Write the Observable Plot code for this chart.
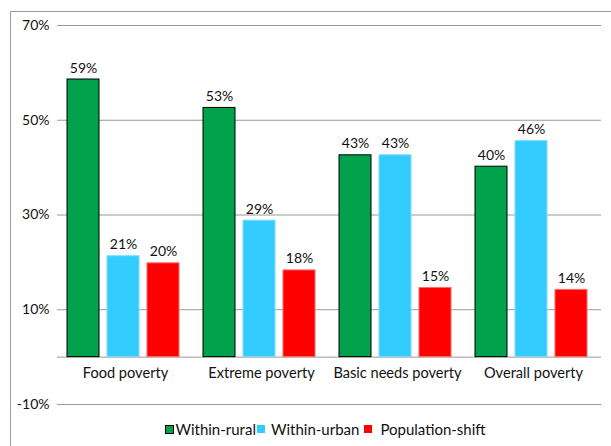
<!DOCTYPE html>
<html>
<head>
<meta charset="utf-8">
<script src="https://cdn.jsdelivr.net/npm/d3@7"></script>
<script src="https://cdn.jsdelivr.net/npm/@observablehq/plot@0.6"></script>
<style>
  html, body { margin: 0; padding: 0; background: #fff; }
  #wrap { position: relative; width: 611px; height: 446px; overflow: hidden; font-family: Lato, "Open Sans", sans-serif; }
  #frame { position: absolute; left: 10px; top: 11px; width: 620px; height: 460px; border-left: 1px solid #9c9c9c; border-top: 1px solid #9c9c9c; }
  #chart { position: absolute; left: 0; top: 0; }
  #legend { position: absolute; left: 0; top: 420px; width: 611px; font-size: 15px; color: #111; display: flex; justify-content: center; align-items: center; padding-left: 40px; box-sizing: border-box; }
  .sw { display: inline-block; width: 8px; height: 8px; }
</style>
</head>
<body>
<div id="wrap">
  <div id="frame"></div>
  <div id="chart"></div>
  <div id="legend"></div>
</div>
<script>
const categories = ["Food poverty", "Extreme poverty", "Basic needs poverty", "Overall poverty"];
const series = ["Within-rural", "Within-urban", "Population-shift"];
const ruralValues = [58.6, 52.6, 42.6, 40.2];
const urbanValues = [21.3, 28.8, 42.6, 45.6];
const shiftValues = [19.8, 18.3, 14.6, 14.2];
const yTicks = [-10, 10, 30, 50, 70];
const seriesColors = ["#00a14b", "#33ccff", "#ff0000"];
const seriesStrokes = ["#000000", "#7fdcff", "#ff6b6b"];

const valuesBySeries = [ruralValues, urbanValues, shiftValues];
const data = categories.flatMap((c, i) =>
  series.map((s, j) => ({category: c, series: s, value: valuesBySeries[j][i]}))
);

const chart = Plot.plot({
  width: 611,
  height: 415,
  marginLeft: 57,
  marginRight: 10,
  marginTop: 25,
  marginBottom: 11,
  style: {fontFamily: "Lato, 'Open Sans', sans-serif", fontSize: "14px", color: "#111", background: "transparent"},
  fx: {domain: categories, padding: 0, axis: null, label: null},
  x: {domain: series, paddingInner: 0.2, paddingOuter: 0.3, align: 0.4, axis: null},
  y: {domain: [-10, 70], ticks: yTicks, tickFormat: d => d + "%", tickSize: 0, tickPadding: 8, label: null},
  color: {domain: series, range: seriesColors},
  marks: [
    Plot.gridY(yTicks, {stroke: "#9a9a9a", strokeOpacity: 1, strokeWidth: 1}),
    Plot.ruleY([0], {stroke: "#9a9a9a", strokeWidth: 1}),
    Plot.barY(data, {
      fx: "category", x: "series", y: "value", fill: "series",
      stroke: d => seriesStrokes[series.indexOf(d.series)], strokeWidth: 1
    }),
    Plot.text(data, {
      fx: "category", x: "series", y: "value",
      text: d => Math.round(d.value) + "%",
      lineAnchor: "bottom", dy: -7, fontSize: 14, fill: "#111"
    }),
    Plot.text(categories, {fx: d => d, y: -3.5, text: d => d, fontSize: 14.6, fill: "#111"})
  ]
});
document.getElementById("chart").appendChild(chart);

const legend = document.getElementById("legend");
const gaps = [[0, 1], [1, 6], [5, 8]];
series.forEach((s, i) => {
  const sw = document.createElement("span");
  sw.className = "sw";
  sw.style.background = seriesColors[i];
  sw.style.marginLeft = gaps[i][0] + "px";
  sw.style.marginRight = gaps[i][1] + "px";
  if (i === 0) { sw.style.border = "1px solid #000"; sw.style.width = "7px"; sw.style.height = "7px"; }
  const t = document.createElement("span");
  t.textContent = s;
  legend.appendChild(sw);
  legend.appendChild(t);
});
</script>
</body>
</html>
